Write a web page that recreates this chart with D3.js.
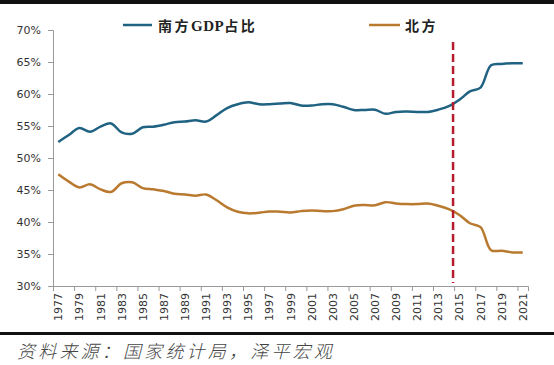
<!DOCTYPE html>
<html><head><meta charset="utf-8">
<script src="https://cdn.jsdelivr.net/npm/d3@7/dist/d3.min.js"></script>
<style>body{margin:0;background:#fff}svg{display:block}</style>
</head><body>
<svg id="c" width="554" height="365"></svg>
<script>
const years = d3.range(1977, 2022);
const south = [52.5,53.6,54.7,54.1,54.9,55.4,54.0,53.8,54.8,54.9,55.2,55.6,55.7,55.9,55.7,56.7,57.8,58.4,58.7,58.4,58.4,58.5,58.6,58.2,58.2,58.4,58.4,58.0,57.5,57.5,57.55,56.9,57.2,57.25,57.2,57.2,57.55,58.1,59.1,60.4,61.0,64.5,64.7,64.8,64.8];
const north = [47.45,46.3,45.4,45.9,45.1,44.7,46.05,46.2,45.3,45.1,44.85,44.4,44.3,44.1,44.3,43.4,42.3,41.6,41.35,41.45,41.65,41.6,41.5,41.7,41.8,41.7,41.7,42.0,42.55,42.65,42.6,43.1,42.9,42.8,42.8,42.9,42.55,42.0,41.1,39.8,39.2,35.6,35.5,35.25,35.25];
const yTicks = [30,35,40,45,50,55,60,65,70];
const seriesNames = ["南方GDP占比","北方"];
const markerYear = 2014.4;
const sourceText = "资料来源：国家统计局，泽平宏观";

(function(){
const svg = d3.select("#c");
const L = 53, R = 528, T = 30, B = 286;
const x = d3.scaleLinear().domain([years[0]-0.5, years[years.length-1]+0.5]).range([L, R]);
const y = d3.scaleLinear().domain([30,70]).range([B, T]);

// top & bottom bars
svg.append("rect").attr("x",0).attr("y",0).attr("width",554).attr("height",4).attr("fill","#111");
svg.append("rect").attr("x",0).attr("y",332).attr("width",554).attr("height",3).attr("fill","#111");

// y axis
const ya = svg.append("g").attr("transform",`translate(${L},0)`)
  .call(d3.axisLeft(y).tickValues(yTicks).tickFormat(d=>d+"%").tickSize(5).tickPadding(7));
ya.select(".domain").attr("stroke","#999");
ya.selectAll(".tick line").attr("stroke","#999");
ya.selectAll("text").attr("font-family","DejaVu Sans").attr("font-size",11).attr("fill","#333");

// x axis: ticks at category boundaries every 2 years
const bounds = d3.range(years[0]-0.5, years[years.length-1]+1, 2);
const xa = svg.append("g").attr("transform",`translate(0,${B})`)
  .call(d3.axisBottom(x).tickValues(bounds).tickSize(5).tickFormat(""));
xa.select(".domain").attr("stroke","#999");
xa.selectAll(".tick line").attr("stroke","#999");
svg.append("g").selectAll("text").data(years.filter((d,i)=>i%2===0)).join("text")
  .attr("transform",d=>`translate(${x(d)+4},${B+7}) rotate(-90)`)
  .attr("text-anchor","end")
  .attr("font-family","DejaVu Sans").attr("font-size",11).attr("fill","#333")
  .text(d=>d);

// lines
const line = d3.line().x((d,i)=>x(years[i])).y(d=>y(d)).curve(d3.curveCatmullRom.alpha(0.5));
svg.append("path").attr("d",line(north)).attr("fill","none").attr("stroke","#b97a30").attr("stroke-width",2.5);
svg.append("path").attr("d",line(south)).attr("fill","none").attr("stroke","#1f6282").attr("stroke-width",2.5);

// marker
svg.append("line").attr("x1",x(markerYear)).attr("x2",x(markerYear)).attr("y1",42).attr("y2",283)
  .attr("stroke","#b51e2e").attr("stroke-width",2.5).attr("stroke-dasharray","8,4");

// legend
const leg = [{name:seriesNames[0],color:"#1f6282",x1:123,x2:152,tx:158},{name:seriesNames[1],color:"#b97a30",x1:369,x2:400,tx:405}];
leg.forEach(l=>{
  svg.append("line").attr("x1",l.x1).attr("x2",l.x2).attr("y1",25).attr("y2",25).attr("stroke",l.color).attr("stroke-width",2.5);
  const t = svg.append("text").attr("x",l.tx).attr("y",30.5).attr("font-family","Noto Sans CJK SC").attr("font-weight","bold")
    .attr("font-size",14).attr("fill","#222").attr("letter-spacing",2.5);
  const parts = l.name.split(/(GDP)/);
  parts.forEach(p=>{ if(!p) return;
    t.append("tspan").attr("font-family", p==="GDP" ? "Liberation Serif" : "Noto Sans CJK SC").attr("font-size", p==="GDP"?15:14).attr("letter-spacing", p==="GDP"?0.5:2.5).text(p);
  });
});

// source
svg.append("text").attr("x",17).attr("y",358).attr("font-family","Noto Sans CJK SC").attr("font-weight",300)
  .attr("font-size",18).attr("letter-spacing",3.2).attr("font-style","italic").attr("fill","#444").text(sourceText);
})();
</script>
</body></html>
